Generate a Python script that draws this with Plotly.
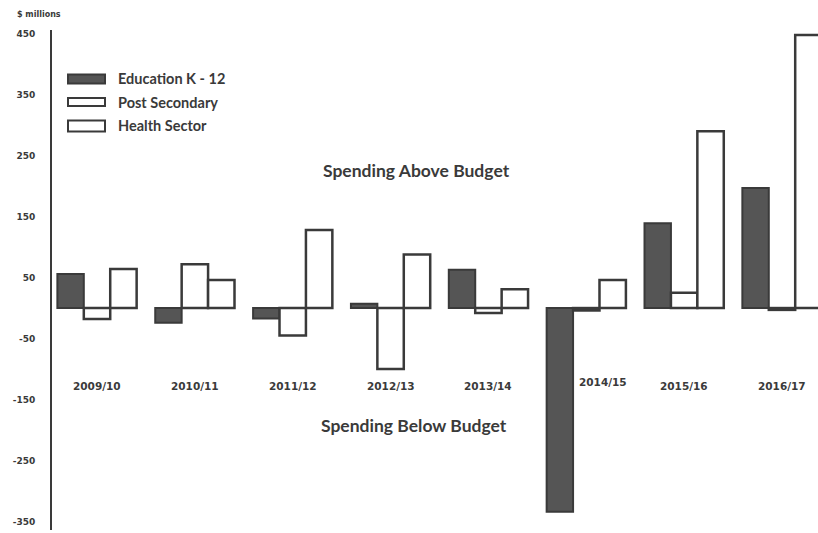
import plotly.graph_objects as go

# Fiscal years and spending variance versus budget ($ millions)
years = ["2009/10", "2010/11", "2011/12", "2012/13", "2013/14", "2014/15", "2015/16", "2016/17"]
education_k12 = [56, -24, -17, 7, 63, -334, 139, 197]
post_secondary = [-18, 72, -45, -100, -8, -4, 25, -3]
health_sector = [64, 46, 128, 88, 31, 46, 290, 448]

y_ticks = [450, 350, 250, 150, 50, -50, -150, -250, -350]
series_names = ["Education K - 12", "Post Secondary", "Health Sector"]

INK = "#3a3a3a"
DARK = "#555555"

fig = go.Figure()
fig.add_trace(go.Bar(x=years, y=education_k12, name=series_names[0],
                     marker=dict(color=DARK, line=dict(color=INK, width=2))))
fig.add_trace(go.Bar(x=years, y=post_secondary, name=series_names[1],
                     marker=dict(color="white", line=dict(color=INK, width=2.5))))
fig.add_trace(go.Bar(x=years, y=health_sector, name=series_names[2],
                     marker=dict(color="white", line=dict(color=INK, width=2.5))))

# Year labels sit below the zero line, inside the plot
label_y = -128
for yr in years:
    shifted = yr == "2014/15"
    fig.add_annotation(x=yr, y=label_y + (7 if shifted else 0), text=f"<b>{yr}</b>",
                       showarrow=False, xshift=17 if shifted else 0,
                       font=dict(family="DejaVu Sans", size=10.5, color=INK))

fig.add_annotation(x=3.26, y=226, text="<b>Spending Above Budget</b>", showarrow=False,
                   font=dict(family="Lato", size=17.5, color=INK))
fig.add_annotation(x=3.24, y=-192, text="<b>Spending Below Budget</b>", showarrow=False,
                   font=dict(family="Lato", size=17.5, color=INK))

# Units caption above the value axis
fig.add_annotation(xref="paper", yref="paper", x=-0.048, y=1.045, xanchor="left",
                   text="<b>$ millions</b>", showarrow=False,
                   font=dict(family="DejaVu Sans", size=8, color=INK))

# Hand-built legend with wide swatches (pixel positions converted to paper units)
W, H = 818, 533
L, T, B = 52, 30, 3
pw, ph = W - L, H - T - B

def px_x(x):
    return (x - L) / pw

def px_y(y):
    return 1 - (y - T) / ph

legend_rows = [(79, DARK, 9), (102, "white", 8), (126, "white", 11)]
for (cy, fill, h), name in zip(legend_rows, series_names):
    fig.add_shape(type="rect", xref="paper", yref="paper",
                  x0=px_x(68), x1=px_x(105), y0=px_y(cy + h / 2), y1=px_y(cy - h / 2),
                  fillcolor=fill, line=dict(color=INK, width=2))
    fig.add_annotation(xref="paper", yref="paper", x=px_x(116), y=px_y(cy),
                       xanchor="left", yanchor="middle", text=f"<b>{name}</b>",
                       showarrow=False,
                       font=dict(family="Lato", size=14.5, color=INK))

fig.update_layout(
    width=W, height=H,
    margin=dict(l=L, r=0, t=T, b=B),
    paper_bgcolor="white", plot_bgcolor="white",
    barmode="group", bargap=0.19, bargroupgap=0,
    showlegend=False,
    xaxis=dict(type="category", range=[-0.46, 7.368], showticklabels=False,
               showgrid=False, zeroline=False, showline=False, ticks=""),
    yaxis=dict(range=[-364, 456], tickvals=y_ticks,
               ticktext=[f"<b>{v}</b>" for v in y_ticks],
               tickfont=dict(family="DejaVu Sans", size=9, color=INK),
               ticklabelstandoff=13,
               showgrid=False, zeroline=False, showline=True,
               linecolor=INK, linewidth=2, ticks=""),
)

fig.write_html("out.html")
